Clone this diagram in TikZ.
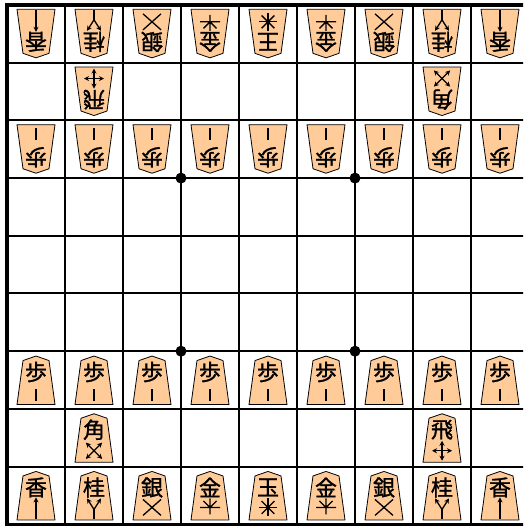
\documentclass[tikz,border=0pt]{standalone}
\usepackage{fontspec}
\newfontfamily\jpfont[FakeBold=1.2]{Noto Sans CJK JP}
\usetikzlibrary{arrows.meta}
\definecolor{piecefill}{HTML}{FFCC99}
\tikzset{
 piecebody/.style={draw=black, fill=piecefill, line width=0.8pt, line join=round},
 kanjitext/.style={font=\jpfont\fontsize{22}{22}\selectfont, inner sep=0pt, anchor=center},
 movestroke/.style={line width=1.3pt, draw=black},
 movearrow/.style={movestroke, -{Stealth[length=5pt,width=5pt]}},
 gridline/.style={line width=2pt},
 borderline/.style={line width=3.5pt},
 hoshi/.style={fill=black},
}
\newcommand\symP{\draw[movestroke] (0,-9) -- (0,-21);}
\newcommand\symL{\draw[movearrow] (0,-23.5) -- (0,-2);}
\newcommand\symN{\draw[movestroke] (0,-23.5) -- (0,-14); \draw[movearrow] (0,-14) -- (-7,-3); \draw[movearrow] (0,-14) -- (7,-3);}
\newcommand\symS{\draw[movestroke] (-9,-4) -- (9,-20) (9,-4) -- (-9,-20);}
\newcommand\symG{\draw[movestroke] (0,-3) -- (0,-19) (-10,-12) -- (10,-12) (0,-12) -- (-6.5,-5.5) (0,-12) -- (6.5,-5.5);}
\newcommand\symK{\foreach \a in {0,45,...,315}{\draw[movestroke] (0,-12) -- ++(\a:9);} \fill (0,-12) circle (2);}
\newcommand\symB{\foreach \a in {45,135,225,315}{\draw[movearrow] (0,-13) -- ++(\a:11.5);}}
\newcommand\symR{\foreach \a in {0,90,180,270}{\draw[movearrow] (0,-13) -- ++(\a:10);}}
\newcommand\shogipiece[5]{%
 \begin{scope}[shift={({7+(#1-0.5)*58},{527-(5+(#2-0.5)*57.7)})}, rotate=#3, transform shape]
  \draw[piecebody] (0,24) -- (13,19.5) -- (19,-24.5) -- (-19,-24.5) -- (-13,19.5) -- cycle;
  \node[kanjitext] (k#1#2) at (0,8) {#4};
  #5
 \end{scope}}
\begin{document}
\begin{tikzpicture}[x=1pt,y=1pt]
\useasboundingbox (0,0) rectangle (523,527);
\clip (0,0) rectangle (523,527);
\foreach \i in {1,...,8} \draw[gridline] ({7+58*\i},522) -- ({7+58*\i},2.7);
\foreach \j in {1,...,8} \draw[gridline] (7,{527-(5+57.7*\j)}) -- (529,{527-(5+57.7*\j)});
\draw[borderline] (7,522) rectangle (529,2.7);
\foreach \cx in {181,355} \foreach \cy in {348.9,175.8} \fill[hoshi] (\cx,\cy) circle (5.5);
% gote
\shogipiece{1}{1}{180}{香}{\symL}
\shogipiece{2}{1}{180}{桂}{\symN}
\shogipiece{3}{1}{180}{銀}{\symS}
\shogipiece{4}{1}{180}{金}{\symG}
\shogipiece{5}{1}{180}{王}{\symK}
\shogipiece{6}{1}{180}{金}{\symG}
\shogipiece{7}{1}{180}{銀}{\symS}
\shogipiece{8}{1}{180}{桂}{\symN}
\shogipiece{9}{1}{180}{香}{\symL}
\shogipiece{2}{2}{180}{飛}{\symR}
\shogipiece{8}{2}{180}{角}{\symB}
\foreach \c in {1,...,9} {\shogipiece{\c}{3}{180}{歩}{\symP}}
% sente
\foreach \c in {1,...,9} {\shogipiece{\c}{7}{0}{歩}{\symP}}
\shogipiece{2}{8}{0}{角}{\symB}
\shogipiece{8}{8}{0}{飛}{\symR}
\shogipiece{1}{9}{0}{香}{\symL}
\shogipiece{2}{9}{0}{桂}{\symN}
\shogipiece{3}{9}{0}{銀}{\symS}
\shogipiece{4}{9}{0}{金}{\symG}
\shogipiece{5}{9}{0}{玉}{\symK}
\shogipiece{6}{9}{0}{金}{\symG}
\shogipiece{7}{9}{0}{銀}{\symS}
\shogipiece{8}{9}{0}{桂}{\symN}
\shogipiece{9}{9}{0}{香}{\symL}
\end{tikzpicture}
\end{document}
